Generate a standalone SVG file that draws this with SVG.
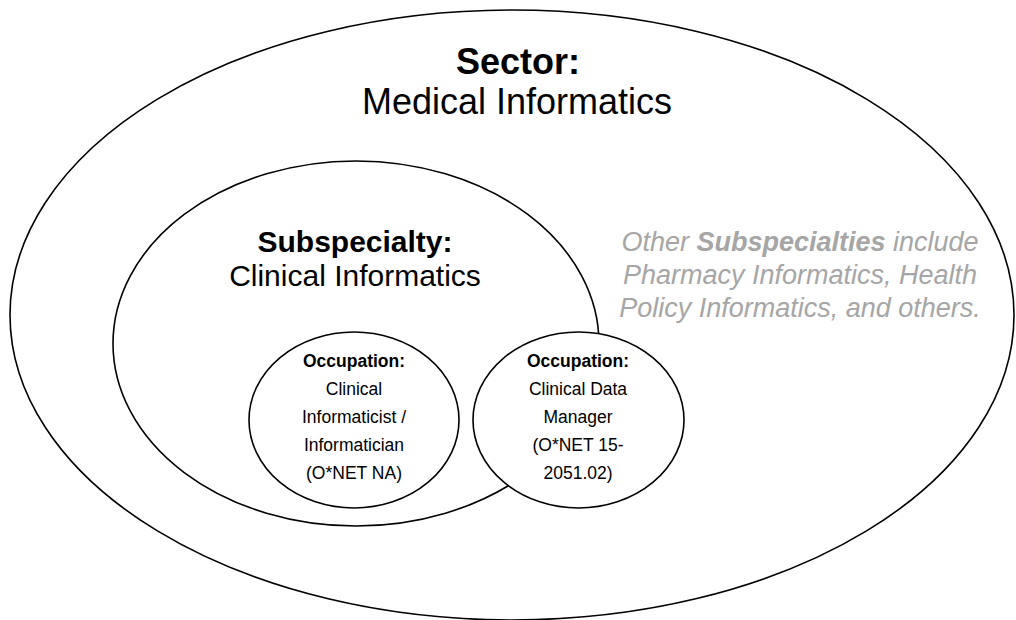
<svg xmlns="http://www.w3.org/2000/svg" width="1016" height="620" viewBox="0 0 1016 620">
<style>
.shape{fill:#fff;stroke:#000;stroke-width:1.6}
text{font-family:"Liberation Sans",Arial,sans-serif;fill:#000;text-anchor:middle}
.b{font-weight:bold}
.sec{font-size:36px}
.sub{font-size:30px}
.occ{font-size:17.5px}
.other{font-size:27px;fill:#a6a6a6;font-style:italic}
</style>
<g id="sector">
<ellipse class="shape" cx="512" cy="315" rx="502" ry="305"/>
<text class="sec b" x="518" y="74">Sector:</text>
<text class="sec" x="517" y="114">Medical Informatics</text>
</g>
<g id="other-subspecialties">
<text class="other" x="800" y="251">Other <tspan font-weight="bold">Subspecialties</tspan> include</text>
<text class="other" x="800" y="284">Pharmacy Informatics, Health</text>
<text class="other" x="800" y="317">Policy Informatics, and others.</text>
</g>
<g id="subspecialty">
<ellipse class="shape" cx="356" cy="343.5" rx="243" ry="182.5"/>
<text class="sub b" x="355" y="252">Subspecialty:</text>
<text class="sub" x="355" y="286">Clinical Informatics</text>
</g>
<g id="occupation-informaticist">
<ellipse class="shape" cx="354" cy="420" rx="105" ry="88"/>
<text class="occ b" x="354" y="367">Occupation:</text>
<text class="occ" x="354" y="395">Clinical</text>
<text class="occ" x="354" y="423">Informaticist /</text>
<text class="occ" x="354" y="451">Informatician</text>
<text class="occ" x="354" y="479">(O*NET NA)</text>
</g>
<g id="occupation-data-manager">
<ellipse class="shape" cx="578.5" cy="420" rx="105.5" ry="88"/>
<text class="occ b" x="578" y="367">Occupation:</text>
<text class="occ" x="578" y="395">Clinical Data</text>
<text class="occ" x="578" y="423">Manager</text>
<text class="occ" x="578" y="451">(O*NET 15-</text>
<text class="occ" x="578" y="479">2051.02)</text>
</g>
<g id="connectors"/>
</svg>
